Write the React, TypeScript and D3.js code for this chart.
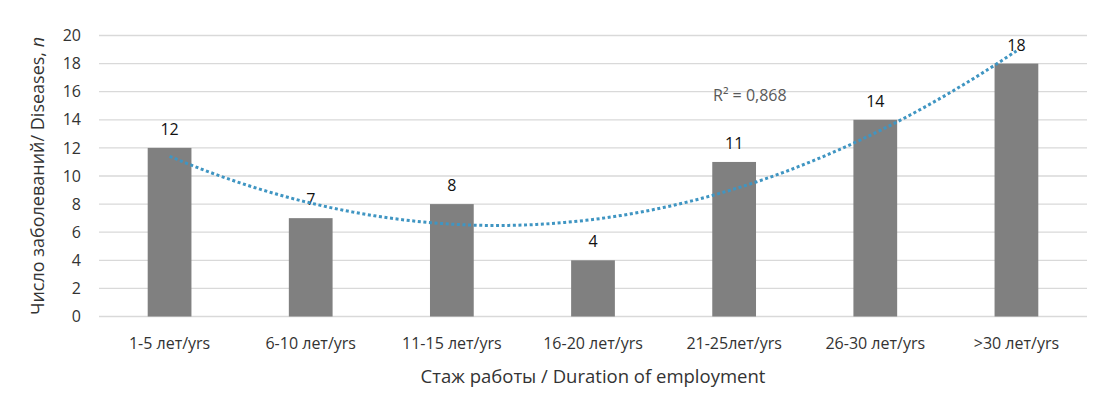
import React from 'react'
import * as d3 from 'd3'

const categories = ['1-5 лет/yrs', '6-10 лет/yrs', '11-15 лет/yrs', '16-20 лет/yrs', '21-25лет/yrs', '26-30 лет/yrs', '>30 лет/yrs']
const diseases = [12, 7, 8, 4, 11, 14, 18]
const yTicks = [0, 2, 4, 6, 8, 10, 12, 14, 16, 18, 20]
const r2Label = 'R² = 0,868'

const W = 1100
const H = 396
const FONT = '"Open Sans", "Noto Sans", sans-serif'

// least squares quadratic fit, as the spreadsheet trendline does
function quadFit(ys: number[]) {
  const n = ys.length
  const xs = ys.map((_, i) => i + 1)
  const s = (f: (x: number, y: number) => number) => d3.sum(xs, (x, i) => f(x, ys[i]))
  const S0 = n, S1 = s(x => x), S2 = s(x => x * x), S3 = s(x => x ** 3), S4 = s(x => x ** 4)
  const T0 = s((x, y) => y), T1 = s((x, y) => x * y), T2 = s((x, y) => x * x * y)
  // solve 3x3 with Cramer's rule
  const det = (m: number[][]) =>
    m[0][0] * (m[1][1] * m[2][2] - m[1][2] * m[2][1]) -
    m[0][1] * (m[1][0] * m[2][2] - m[1][2] * m[2][0]) +
    m[0][2] * (m[1][0] * m[2][1] - m[1][1] * m[2][0])
  const A = [[S0, S1, S2], [S1, S2, S3], [S2, S3, S4]]
  const B = [T0, T1, T2]
  const D = det(A)
  const coef = [0, 1, 2].map(k => det(A.map((row, r) => row.map((v, c) => (c === k ? B[r] : v)))) / D)
  return (x: number) => coef[0] + coef[1] * x + coef[2] * x * x
}

export default function App() {
  const left = 99
  const right = 1087
  const top = 35.5
  const bottom = 316.5

  const x = d3.scaleBand<string>()
    .domain(categories)
    .range([left, right])
    .paddingInner(0.69)
    .paddingOuter(0.345)

  const y = d3.scaleLinear().domain([0, 20]).range([bottom, top])

  const fit = quadFit(diseases)
  const cx = (i: number) => (x(categories[i]) || 0) + x.bandwidth() / 2
  const trendPts: [number, number][] = []
  for (let t = 1; t <= diseases.length; t += 0.05) {
    const i0 = Math.min(Math.floor(t - 1), diseases.length - 2)
    const frac = t - 1 - i0
    const px = cx(i0) + (cx(i0 + 1) - cx(i0)) * frac
    trendPts.push([px, y(fit(t))])
  }
  const line = d3.line()(trendPts) || ''

  return (
    <svg width={W} height={H} style={{ position: 'absolute', left: 0, top: 0, background: '#fff' }} fontFamily={FONT}>
      {/* grid */}
      {yTicks.map(t => (
        <line key={t} x1={left} x2={right} y1={y(t)} y2={y(t)} stroke="#d9d9d9" strokeWidth={1.3} />
      ))}
      {/* y tick labels */}
      {yTicks.map(t => (
        <text key={'l' + t} x={81} y={y(t)} dy="0.35em" textAnchor="end" fontSize={16} fill="#333">{t}</text>
      ))}
      {/* bars */}
      {diseases.map((v, i) => (
        <rect key={i} x={x(categories[i])} y={y(v)} width={x.bandwidth()} height={y(0) - y(v)} fill="#808080" />
      ))}
      {/* value labels */}
      {diseases.map((v, i) => (
        <text key={'v' + i} x={cx(i)} y={y(v) - 13} textAnchor="middle" fontSize={16} fill="#111">{v}</text>
      ))}
      {/* trendline */}
      <path d={line} fill="none" stroke="#3f95c2" strokeWidth={3} strokeDasharray="3 2.6" />
      <text x={713} y={101} fontSize={16} fill="#595959">{r2Label}</text>
      {/* x tick labels */}
      {categories.map((c, i) => (
        <text key={'c' + i} x={cx(i)} y={349} textAnchor="middle" fontSize={16} fill="#333">{c}</text>
      ))}
      {/* axis titles */}
      <text x={(left + right) / 2} y={383} textAnchor="middle" fontSize={18.5} fill="#333">
        Стаж работы / Duration of employment
      </text>
      <text transform={`translate(44, ${(top + bottom) / 2}) rotate(-90)`} textAnchor="middle" fontSize={18} fill="#333">
        Число заболеваний/ Diseases, <tspan fontStyle="italic">n</tspan>
      </text>
    </svg>
  )
}
